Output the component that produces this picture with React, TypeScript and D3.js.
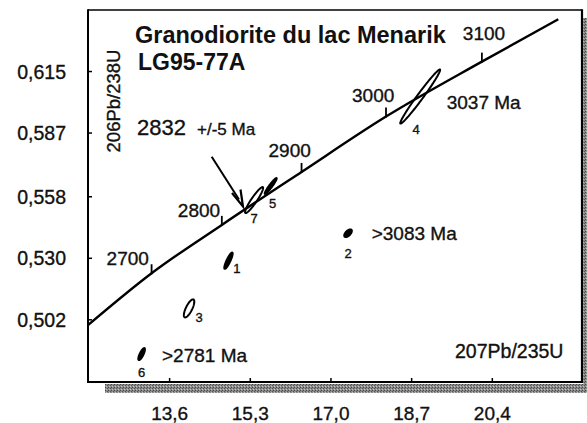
import React from "react";
import * as d3 from "d3";

// Axis ticks
const xTicks = [13.6, 15.3, 17.0, 18.7, 20.4];
const xTickLabels = ["13,6", "15,3", "17,0", "18,7", "20,4"];
const yTicks = [0.502, 0.53, 0.558, 0.587, 0.615];
const yTickLabels = ["0,502", "0,530", "0,558", "0,587", "0,615"];

// Concordia curve: 207Pb/235U, 206Pb/238U
const curve207 = [11.88, 13.22, 14.7, 16.38, 18.16, 20.18, 21.79];
const curve206 = [0.4996, 0.5232, 0.5452, 0.5693, 0.5945, 0.6195, 0.6388];
// Age marks on the concordia
const ageMarks = [2700, 2800, 2900, 3000, 3100];
const ageMark207 = [13.22, 14.7, 16.38, 18.16, 20.18];
const ageMark206 = [0.5232, 0.5452, 0.5693, 0.5945, 0.6195];

// Zircon analyses (error ellipses)
const grains = ["1", "2", "3", "4", "5", "6", "7"];
const center207 = [14.84, 17.36, 14.01, 18.88, 15.73, 13.01, 15.38];
const center206 = [0.5289, 0.5414, 0.5072, 0.6036, 0.5629, 0.4864, 0.5565];
const err207 = [0.088, 0.08, 0.11, 0.42, 0.126, 0.07, 0.19];
const err206 = [0.0037, 0.00173, 0.0041, 0.0123, 0.0036, 0.00273, 0.0059];
const rho = [0.87, 0.6, 0.75, 0.983, 0.95, 0.79, 0.93];

// Layout (pixels)
const W = 587;
const H = 423;
const L = 88, R = 582, T = 10, B = 382;
const ageLabelPos: [number, number][] = [
  [-45, -8], [-44, -8], [-33, -15], [-34, -15], [-19, -21.7],
];
const grainLabelPos: [number, number][] = [
  [8.4, 12.6], [0, 25], [10, 14], [-4, 37], [2, 22], [0, 23], [0, 23],
];

const FONT = "'Liberation Sans', Arial, Helvetica, sans-serif";
const INK = "#111";
const txt = { fill: INK, stroke: INK, strokeWidth: 0.35 };

export default function App() {
  const x = d3.scaleLinear().domain([11.88, 22.29]).range([L, R]);
  const y = d3.scaleLinear().domain([0.4737, 0.643]).range([B, T]);

  const concordia = d3
    .line<number>()
    .x((_, i) => x(curve207[i]))
    .y((_, i) => y(curve206[i]))
    .curve(d3.curveMonotoneX)(curve207);

  const ellipses = grains.map((g, i) => {
    const n = 90;
    const pts: [number, number][] = d3.range(n).map((k) => {
      const t = (k / n) * Math.PI * 2;
      const dx = err207[i] * Math.cos(t);
      const dy =
        err206[i] * (rho[i] * Math.cos(t) + Math.sqrt(1 - rho[i] * rho[i]) * Math.sin(t));
      return [x(center207[i] + dx), y(center206[i] + dy)];
    });
    const path = d3.line().curve(d3.curveLinearClosed)(pts);
    // minor semi-axis in pixels -> small ellipses appear solid
    const a = Math.abs(x(center207[i] + err207[i]) - x(center207[i]));
    const b = Math.abs(y(center206[i] + err206[i]) - y(center206[i]));
    const r = rho[i] * a * b;
    const m = (a * a + b * b) / 2;
    const hd = (a * a - b * b) / 2;
    const minor = Math.sqrt(Math.max(0, m - Math.sqrt(hd * hd + r * r)));
    return { g, path, cx: x(center207[i]), cy: y(center206[i]), solid: minor < 2.5, i };
  });

  return (
    <svg
      width={W}
      height={H}
      style={{ position: "absolute", left: 0, top: 0, background: "#fff" }}
      fontFamily={FONT}
    >
      <defs>
        <pattern id="grain" width="3" height="3" patternUnits="userSpaceOnUse">
          <rect width="3" height="3" fill="#8c8c8c" />
          <rect x="0" y="0" width="1" height="1" fill="#444" />
          <rect x="2" y="1" width="1" height="1" fill="#555" />
          <rect x="1" y="2" width="1" height="1" fill="#c4c4c4" />
        </pattern>
      </defs>
      <rect width={W} height={H} fill="#fff" />

      {/* shadow */}
      <rect x={105} y={B + 2} width={W - 105} height={9} fill="url(#grain)" />
      <rect x={R + 1} y={T + 8} width={W - R - 1} height={B + 11 - T - 8} fill="url(#grain)" />

      {/* frame */}
      <line x1={L} x2={R} y1={T} y2={T} stroke="#000" strokeWidth={1.6} />
      <line x1={L} x2={L} y1={T - 0.8} y2={B + 1} stroke="#000" strokeWidth={2} />
      <line x1={R} x2={R} y1={T - 0.8} y2={B + 1} stroke="#000" strokeWidth={2.2} />
      <line x1={L - 1} x2={R + 1} y1={B} y2={B} stroke="#000" strokeWidth={2} />

      {/* y ticks */}
      {yTicks.map((v, i) => (
        <g key={"y" + i}>
          <line x1={L} x2={L + 4} y1={y(v)} y2={y(v)} stroke="#000" strokeWidth={1.5} />
          <text x={66} y={y(v) + 7} fontSize={19.5} textAnchor="end" {...txt}>
            {yTickLabels[i]}
          </text>
        </g>
      ))}

      {/* x ticks */}
      {xTicks.map((v, i) => (
        <g key={"x" + i}>
          <line x1={x(v)} x2={x(v)} y1={B} y2={B - 4} stroke="#000" strokeWidth={1.5} />
          <text x={x(v)} y={420} fontSize={19} textAnchor="middle" {...txt}>
            {xTickLabels[i]}
          </text>
        </g>
      ))}

      {/* axis titles */}
      <text
        transform={`translate(120,101) rotate(-90)`}
        fontSize={18.5}
        textAnchor="middle"
        {...txt}
      >
        206Pb/238U
      </text>
      <text x={455} y={358} fontSize={19.5} {...txt}>
        207Pb/235U
      </text>

      {/* title */}
      <text x={135} y={43} fontSize={23.5} fontWeight="bold" fill={INK}>
        Granodiorite du lac Menarik
      </text>
      <text x={138} y={70} fontSize={23} fontWeight="bold" fill={INK}>
        LG95-77A
      </text>

      {/* concordia */}
      <path d={concordia ?? ""} fill="none" stroke="#000" strokeWidth={2.4} />
      {ageMarks.map((age, i) => {
        const px = x(ageMark207[i]);
        const py = y(ageMark206[i]);
        return (
          <g key={"a" + age}>
            <line x1={px} x2={px} y1={py + 1} y2={py - 9} stroke="#000" strokeWidth={1.8} />
            <text
              x={px + ageLabelPos[i][0]}
              y={py + ageLabelPos[i][1]}
              fontSize={19}
              {...txt}
            >
              {age}
            </text>
          </g>
        );
      })}

      {/* ellipses */}
      {ellipses.map((e) => (
        <g key={"e" + e.g}>
          <path
            d={e.path ?? ""}
            fill={e.solid ? "#000" : "#fff"}
            fillOpacity={e.solid ? 1 : 0}
            stroke="#000"
            strokeWidth={2}
          />
          <text
            x={e.cx + grainLabelPos[e.i][0]}
            y={e.cy + grainLabelPos[e.i][1]}
            fontSize={13}
            textAnchor="middle"
            {...txt}
          >
            {e.g}
          </text>
        </g>
      ))}

      {/* annotations */}
      <text x={137} y={135} fontSize={22} {...txt}>
        2832
      </text>
      <text x={197} y={135} fontSize={17} {...txt}>
        +/-5 Ma
      </text>
      <line x1={211.7} y1={156.7} x2={239} y2={199.5} stroke="#000" strokeWidth={2} />
      <path
        d="M232,193 L243,206.5 L240.5,189.5"
        fill="none"
        stroke="#000"
        strokeWidth={2.2}
        strokeLinejoin="miter"
      />
      <text x={446.7} y={109.3} fontSize={19} {...txt}>
        3037 Ma
      </text>
      <text x={371.7} y={240} fontSize={19} {...txt}>
        &gt;3083 Ma
      </text>
      <text x={162} y={361.7} fontSize={19} {...txt}>
        &gt;2781 Ma
      </text>
    </svg>
  );
}
